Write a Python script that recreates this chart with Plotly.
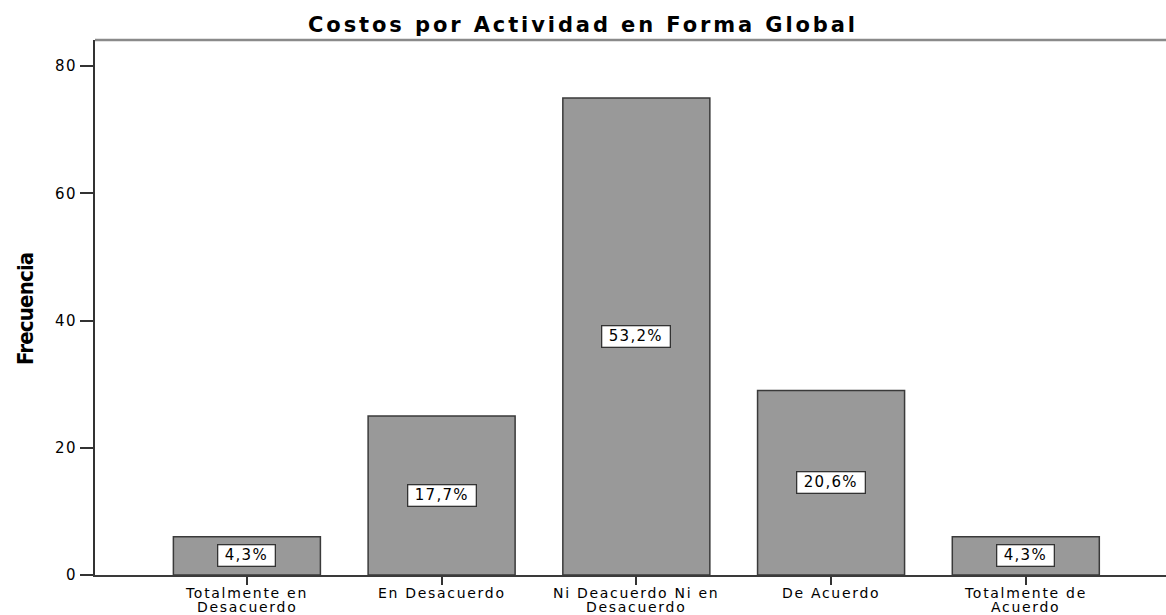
import plotly.graph_objects as go

categories = ["Totalmente en\nDesacuerdo", "En Desacuerdo", "Ni Deacuerdo Ni en\nDesacuerdo",
              "De Acuerdo", "Totalmente de\nAcuerdo"]
frecuencia = [6, 25, 75, 29, 6]
porcentaje = ["4,3%", "17,7%", "53,2%", "20,6%", "4,3%"]
y_ticks = [0, 20, 40, 60, 80]

title_text = "Costos por Actividad en Forma Global"
y_title = "Frecuencia"

FONT = "DejaVu Sans, Verdana, sans-serif"


def spaced(t, ls):
    return f'<span style="letter-spacing:{ls}px">{t}</span>'


xpos = list(range(len(categories)))

fig = go.Figure()
fig.add_trace(go.Bar(
    x=xpos, y=frecuencia, width=0.755,
    marker=dict(color="#999999", line=dict(color="#3a3a3a", width=1.5)),
    hoverinfo="skip", showlegend=False,
))

# percentage boxes in the middle of each bar
for xi, v, p in zip(xpos, frecuencia, porcentaje):
    fig.add_annotation(
        x=xi, y=v / 2, text=spaced(p, 1.3), showarrow=False,
        font=dict(family=FONT, size=15, color="#000000"),
        bgcolor="#ffffff", bordercolor="#333333", borderwidth=1.3, borderpad=1,
        width=11 * len(p) + 10, align="center",
    )

# category labels (each line placed under its tick)
for xi, cat in zip(xpos, categories):
    for j, line in enumerate(cat.split("\n")):
        fig.add_annotation(
            x=xi, xref="x", y=0, yref="paper", yanchor="middle", yshift=-18 - 13.5 * j,
            text=spaced(line, 1.7), showarrow=False,
            font=dict(family=FONT, size=14, color="#000000"),
        )

# y axis title
fig.add_annotation(
    x=0, xref="paper", xanchor="center", xshift=-70,
    y=0.497, yref="paper", yanchor="middle",
    text=spaced(y_title, -0.8), textangle=-90, showarrow=False,
    font=dict(family="DejaVu Sans Condensed, DejaVu Sans, sans-serif", size=22,
              color="#000000", weight="bold"),
)

# top frame line
fig.add_shape(type="line", xref="paper", yref="paper", x0=0, x1=1, y0=1, y1=1,
              line=dict(color="#8a8a8a", width=2.5))

fig.update_layout(
    width=1166, height=615,
    margin=dict(l=95, r=0, t=40, b=40),
    paper_bgcolor="#ffffff", plot_bgcolor="#ffffff",
    title=dict(
        text=spaced(title_text, 2.9),
        x=0.5, xref="container", xanchor="center",
        y=1 - 25 / 615, yref="container", yanchor="middle",
        font=dict(family=FONT, size=21, color="#000000", weight="bold"),
    ),
    xaxis=dict(
        range=[-0.78, 4.72], tickmode="array", tickvals=xpos, showticklabels=False,
        showgrid=False, zeroline=False, showline=True, linecolor="#3a3a3a", linewidth=2,
        ticks="outside", ticklen=8, tickwidth=2, tickcolor="#333333",
        fixedrange=True,
    ),
    yaxis=dict(
        range=[0, 84.1], tickmode="array", tickvals=y_ticks,
        ticktext=[spaced(str(t), 1.5) for t in y_ticks],
        showgrid=False, zeroline=False, showline=True, linecolor="#333333", linewidth=2,
        ticks="outside", ticklen=13, tickwidth=2, tickcolor="#333333",
        tickfont=dict(family=FONT, size=15, color="#000000"),
        fixedrange=True,
    ),
)

fig.write_html(
    "out.html",
    config={"displayModeBar": False},
    post_script="document.body.style.margin='0';document.body.style.overflow='hidden';",
)
